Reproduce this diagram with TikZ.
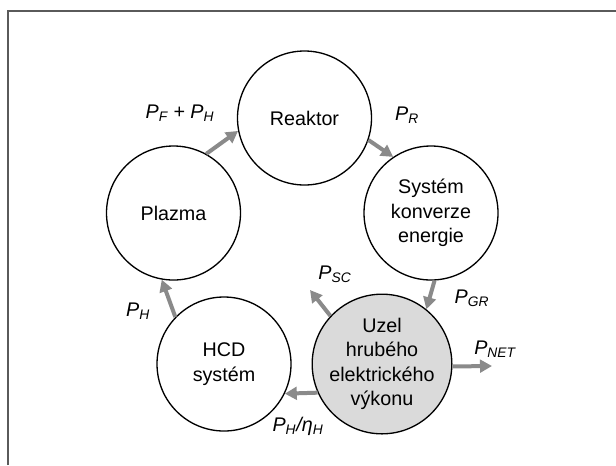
\documentclass[tikz,border=0pt]{standalone}
\usepackage{fontspec}
\setmainfont{Liberation Sans}
\usetikzlibrary{arrows.meta}
\definecolor{flowgray}{HTML}{8A8A8A}
\definecolor{framegray}{HTML}{5A5A5A}
\definecolor{nodefill}{HTML}{DADADA}
\tikzset{
  blob/.style={circle, draw=black, line width=1pt, minimum size=100.5pt, inner sep=0pt, align=center,
    font=\fontsize{14.8}{18.4}\selectfont},
  flow/.style={draw=flowgray, line width=3pt, -{Triangle[length=9pt,width=9.5pt]}},
  lab/.style={font=\fontsize{14.8}{18}\selectfont\itshape, inner sep=0pt}
}
\begin{document}
\begin{tikzpicture}[x=0.75pt,y=-0.75pt]
\useasboundingbox (0,0) rectangle (616,465);
\draw[framegray, line width=1.2pt] (8,465) -- (8,11) -- (616,11);

\node[blob] (reak) at (304.5,118) {Reaktor};
\node[blob] (plaz) at (173.5,213) {Plazma};
\node[blob] (syst) at (431,213) {Systém\\konverze\\energie};
\node[blob] (hcd)  at (224,364) {HCD\\systém};
\node[blob, fill=nodefill] (uzel) at (382,364) {Uzel\\hrubého\\elektrického\\výkonu};

\coordinate (sc)  at (310,290);
\coordinate (net) at (492,366);

\draw[flow] (plaz.61) -- (reak.191);
\draw[flow] (reak.341) -- (syst.124);
\draw[flow] (syst.273) -- (uzel.51);
\draw[flow] (uzel.204) -- (hcd.334);
\draw[flow] (hcd.136) -- (plaz.260);
\draw[flow] (uzel.137) -- (sc);
\draw[flow] (uzel.358) -- (net);

\node[lab] (lpfh) at (180,113) {P\textsubscript{F} + P\textsubscript{H}};
\node[lab] (lpr)  at (407,115) {P\textsubscript{R}};
\node[lab] (lpsc) at (335,274) {P\textsubscript{SC}};
\node[lab] (lpgr) at (472,298) {P\textsubscript{GR}};
\node[lab] (lph)  at (138,311) {P\textsubscript{H}};
\node[lab] (lpnet) at (495,349) {P\textsubscript{NET}};
\node[lab] (lpeta) at (298,426) {P\textsubscript{H}/η\textsubscript{H}};
\end{tikzpicture}
\end{document}
